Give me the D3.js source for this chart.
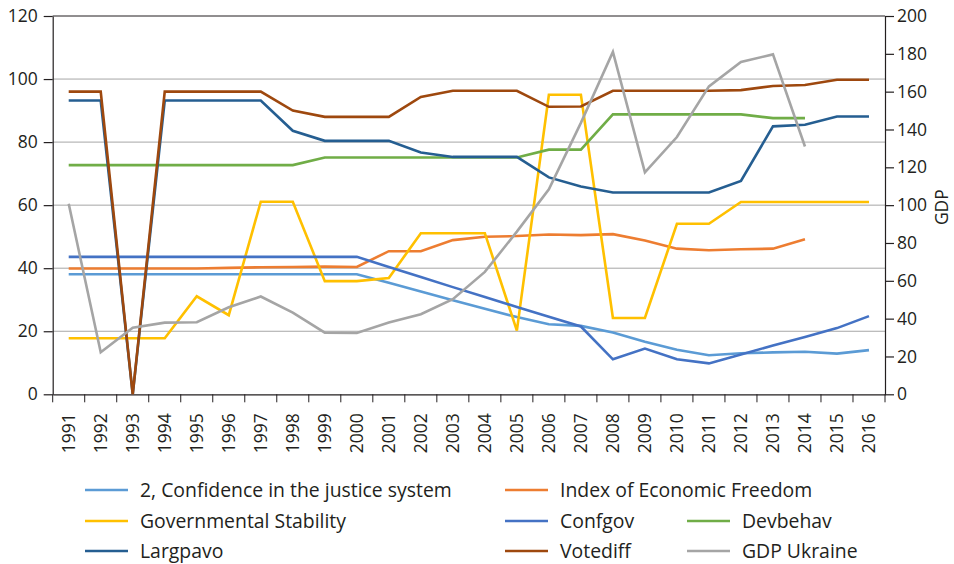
<!DOCTYPE html>
<html>
<head>
<meta charset="utf-8">
<script src="https://cdn.jsdelivr.net/npm/d3@7/dist/d3.min.js"></script>
<style>
  html, body { margin: 0; padding: 0; background: #fff; }
  svg { display: block; font-family: "Open Sans", sans-serif; }
</style>
</head>
<body>
<svg id="chart" width="954" height="564"></svg>
<script>
const years = ["1991","1992","1993","1994","1995","1996","1997","1998","1999","2000","2001","2002","2003","2004","2005","2006","2007","2008","2009","2010","2011","2012","2013","2014","2015","2016"];
const leftTicks = [0, 20, 40, 60, 80, 100, 120];
const rightTicks = [0, 20, 40, 60, 80, 100, 120, 140, 160, 180, 200];

const confidenceJustice = [38.1,38.1,38.1,38.1,38.1,38.1,38.1,38.1,38.1,38.1,35.4,32.6,29.8,27.1,24.5,22.2,21.7,19.6,16.7,14.1,12.4,13.0,13.3,13.5,12.9,14.0];
const economicFreedom = [39.9,39.9,39.9,39.9,39.9,40.1,40.3,40.4,40.5,40.4,45.4,45.4,48.9,50.0,50.2,50.7,50.5,50.8,48.8,46.2,45.7,46.0,46.2,49.2,null,null];
const govStability = [17.8,17.8,17.8,17.8,31.1,25.1,61.1,61.1,35.9,35.9,36.9,51.1,51.1,51.1,20.2,95.0,95.0,24.2,24.2,54.1,54.1,61.0,61.0,61.0,61.0,61.0];
const confgov = [43.6,43.6,43.6,43.6,43.6,43.6,43.6,43.6,43.6,43.6,40.4,37.2,34.0,30.9,27.7,24.6,21.5,11.1,14.5,11.1,9.8,12.6,15.5,18.2,21.0,24.8];
const devbehav = [72.7,72.7,72.7,72.7,72.7,72.7,72.7,72.7,75.1,75.1,75.1,75.1,75.1,75.1,75.1,77.6,77.6,88.8,88.8,88.8,88.8,88.8,87.6,87.6,null,null];
const largpavo = [93.2,93.2,0,93.2,93.2,93.2,93.2,83.6,80.4,80.4,80.4,76.7,75.3,75.3,75.3,68.8,65.9,64.0,64.0,64.0,64.0,67.7,85.0,85.5,88.1,88.1];
const votediff = [96.0,96.0,0,96.0,96.0,96.0,96.0,90.0,88.0,88.0,88.0,94.3,96.3,96.3,96.3,91.2,91.3,96.3,96.3,96.3,96.3,96.5,97.8,98.1,99.8,99.8];
const gdpUkraine = [100.7,22.2,35.2,37.9,38.1,46.0,51.7,43.2,32.6,32.4,37.9,42.3,50.3,64.7,86.0,108.4,143.5,181.0,117.3,136.0,162.8,175.7,179.7,131.0,null,null];

const seriesNames = ["2, Confidence in the justice system","Index of Economic Freedom","Governmental Stability","Confgov","Devbehav","Largpavo","Votediff","GDP Ukraine"];
const seriesColors = ["#5B9BD5","#ED7D31","#FFC000","#4472C4","#70AD47","#255E91","#9E480E","#A5A5A5"];
const seriesValues = [confidenceJustice, economicFreedom, govStability, confgov, devbehav, largpavo, votediff, gdpUkraine];
const seriesAxis = ["left","left","left","left","left","left","left","right"];

const svg = d3.select("#chart");
const L = 52.7, R = 885, T = 16, B = 394.3;
const axisColor = "#231F20";
const fontSize = 17.5;
const legendFontSize = 19.4;

const x = d3.scaleBand().domain(years).range([L, R]).padding(0);
const yL = d3.scaleLinear().domain([0, 120]).range([B, T]);
const yR = d3.scaleLinear().domain([0, 200]).range([B, T]);

// gridlines
svg.append("g").selectAll("line").data(leftTicks.filter(t => t > 0 && t < 120)).join("line")
  .attr("x1", L).attr("x2", R).attr("y1", d => yL(d)).attr("y2", d => yL(d))
  .attr("stroke", "#A6A6A6").attr("stroke-width", 1);
// top border
svg.append("line").attr("x1", L).attr("x2", R).attr("y1", T).attr("y2", T)
  .attr("stroke", axisColor).attr("stroke-width", 1);

// left axis
const gL = svg.append("g").attr("transform", `translate(${L},0)`)
  .call(d3.axisLeft(yL).tickValues(leftTicks).tickSize(9).tickPadding(6).tickSizeOuter(0));
// right axis
const gR = svg.append("g").attr("transform", `translate(${R},0)`)
  .call(d3.axisRight(yR).tickValues(rightTicks).tickSize(9).tickPadding(3).tickSizeOuter(0));
// bottom axis with ticks at band edges
const gB = svg.append("g").attr("transform", `translate(0,${B})`)
  .call(d3.axisBottom(x).tickSize(0).tickSizeOuter(0));
gB.selectAll(".tick line").remove();
gB.selectAll(".tick text")
  .attr("transform", "rotate(-90)")
  .attr("x", -19).attr("y", 0).attr("dy", "0.35em")
  .attr("text-anchor", "end");
const edges = years.map(d => x(d)).concat([R]);
gB.append("g").selectAll("line").data(edges).join("line")
  .attr("x1", d => d).attr("x2", d => d).attr("y1", 0).attr("y2", 8)
  .attr("stroke", axisColor).attr("stroke-width", 1);

[gL, gR, gB].forEach(g => {
  g.selectAll(".domain").attr("stroke", axisColor).attr("stroke-width", 1.2);
  g.selectAll(".tick line").attr("stroke", axisColor).attr("stroke-width", 1.2);
  g.selectAll(".tick text").attr("fill", axisColor).style("font-size", fontSize + "px").style("font-family", '"Open Sans", sans-serif');
});

// GDP axis title
svg.append("text")
  .attr("transform", `translate(942,${yR(100) + 2}) rotate(-90)`)
  .attr("text-anchor", "middle").attr("dy", "0.35em")
  .attr("fill", axisColor).style("font-size", fontSize + "px")
  .text("GDP");

// lines
const cx = d => x(d) + x.bandwidth() / 2;
seriesValues.forEach((vals, i) => {
  const yScale = seriesAxis[i] === "left" ? yL : yR;
  const line = d3.line()
    .defined(d => d.v !== null)
    .x(d => cx(d.year))
    .y(d => yScale(d.v));
  svg.append("path")
    .datum(years.map((year, j) => ({ year, v: vals[j] })))
    .attr("d", line)
    .attr("fill", "none")
    .attr("stroke", seriesColors[i])
    .attr("stroke-width", 2.6)
    .attr("stroke-linejoin", "miter");
});

// legend
const legendPos = [
  [85, 490], [505, 490],
  [85, 521], [505, 521], [687, 521],
  [85, 551], [505, 551], [687, 551]
];
const lg = svg.append("g");
seriesNames.forEach((name, i) => {
  const [lx, ly] = legendPos[i];
  lg.append("line").attr("x1", lx).attr("x2", lx + 43).attr("y1", ly).attr("y2", ly)
    .attr("stroke", seriesColors[i]).attr("stroke-width", 2.6);
  lg.append("text").attr("x", lx + 55).attr("y", ly).attr("dy", "0.35em")
    .attr("fill", axisColor).style("font-size", legendFontSize + "px")
    .text(name);
});
</script>
</body>
</html>
